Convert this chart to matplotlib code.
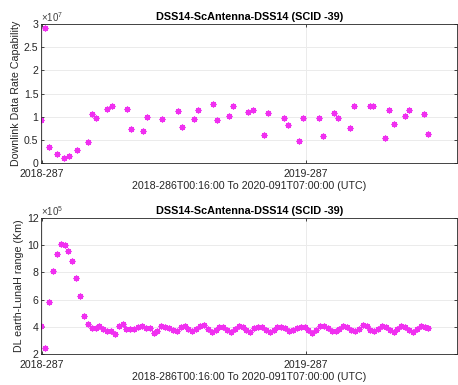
import matplotlib
matplotlib.use('Agg')
import matplotlib.pyplot as plt
from matplotlib.ticker import FormatStrFormatter
import numpy as np

plt.rcParams['font.family'] = ['Liberation Sans', 'DejaVu Sans']
plt.rcParams['mathtext.fontset'] = 'custom'
plt.rcParams['mathtext.rm'] = 'Liberation Sans'

# time axis: days after 2018-287 00:00
start_day = -0.99      # 2018-286T00:16:00
end_day = 534.29       # 2020-091T07:00:00
tick_days = [0, 365]
tick_labels = ['2018-287', '2019-287']

title = 'DSS14-ScAntenna-DSS14 (SCID -39)'
xlabel = '2018-286T00:16:00 To 2020-091T07:00:00 (UTC)'

# downlink data rate (x 10^7)
rate_days = [-0.9, 4.1, 9.7, 20.3, 30.9, 36.9, 47.9, 63.6, 68.7, 74.7, 90.3, 96.8,
             117.1, 123.5, 139.2, 145.2, 166.4, 188.0, 194.0, 209.7, 215.2, 236.4,
             242.4, 258.1, 263.6, 284.4, 291.3, 307.0, 312.0, 334.1, 340.1, 355.8,
             360.9, 383.0, 388.5, 404.2, 409.7, 425.8, 431.8, 453.0, 457.2, 474.7,
             480.2, 486.2, 501.4, 507.0, 528.2, 534.3]
rate_vals = [0.93, 2.91, 0.34, 0.19, 0.10, 0.16, 0.28, 0.45, 1.06, 0.98, 1.16, 1.23,
             1.16, 0.73, 0.68, 1.00, 0.95, 1.12, 0.78, 0.96, 1.14, 1.28, 0.93, 1.02,
             1.22, 1.11, 1.15, 0.60, 1.08, 0.97, 0.83, 0.48, 0.98, 0.98, 0.59, 1.07,
             0.98, 0.75, 1.22, 1.23, 1.24, 0.55, 1.15, 0.85, 1.01, 1.15, 1.06, 0.63]

# earth-LunaH range (x 10^5 km), sampled evenly over the pass window
range_vals = [4.05, 2.45, 5.86, 8.11, 9.38, 10.07, 10.05, 9.61, 8.86, 7.57, 6.24, 4.83,
              4.20, 3.90, 3.92, 4.05, 3.85, 3.70, 3.72, 3.50, 4.05, 4.20, 3.85, 3.82,
              3.82, 3.98, 4.05, 3.92, 3.92, 3.55, 3.72, 4.05, 4.00, 3.90, 3.78, 3.68,
              3.95, 4.05, 3.85, 3.70, 3.85, 4.05, 4.15, 3.85, 3.60, 3.80, 3.95, 4.00,
              3.80, 3.62, 3.85, 4.08, 4.02, 3.78, 3.65, 3.90, 4.02, 3.98, 3.75, 3.65,
              3.80, 3.95, 4.00, 3.90, 3.72, 3.75, 3.92, 4.00, 3.95, 3.75, 3.58, 3.80,
              4.05, 4.08, 3.88, 3.72, 3.70, 3.85, 4.05, 4.00, 3.78, 3.70, 3.85, 4.10,
              4.05, 3.80, 3.68, 3.85, 4.05, 4.00, 3.75, 3.60, 3.85, 4.08, 3.98, 3.75,
              3.62, 3.82, 4.05, 4.02, 3.90]
range_days = np.linspace(start_day, end_day, len(range_vals))

W, H = 458, 385
fig = plt.figure(figsize=(W / 100, H / 100), dpi=100)
ax_left, ax_right = 41.3, 457.0
xlim = (start_day, start_day + (ax_right - ax_left) * 365 / 264)

def make_axes(top, bottom):
    return fig.add_axes([ax_left / W, 1 - bottom / H, (ax_right - ax_left) / W, (bottom - top) / H])

def style(ax, ylabel, expo, yticks):
    ax.set_xlim(*xlim)
    ax.set_xticks(tick_days)
    ax.set_xticklabels(tick_labels)
    ax.set_yticks(yticks)
    ax.yaxis.set_major_formatter(FormatStrFormatter('%g'))
    ax.set_ylim(yticks[0], yticks[-1])
    ax.grid(True, color='#ebebeb', linewidth=0.7)
    ax.set_axisbelow(True)
    for s in ax.spines.values():
        s.set_color('#262626')
        s.set_linewidth(0.6)
    ax.tick_params(direction='in', length=2.5, width=0.6, colors='#262626',
                   labelsize=7.6, top=True, right=True, pad=2)
    ax.tick_params(axis='x', pad=4)
    ax.set_title(title, fontsize=7.8, fontweight='bold', pad=3)
    ax.set_xlabel(xlabel, fontsize=7.7, labelpad=2, color='#262626')
    ax.set_ylabel(ylabel, fontsize=7.7, labelpad=2, color='#262626')
    ax.text(0.0, 1.0, r'$\times10^{%d}$' % expo, transform=ax.transAxes,
            fontsize=7, color='#404040', ha='left', va='bottom')

marker = dict(linestyle='none', marker=(8, 2, 0), markersize=4.2,
              color='#f030f0', markeredgewidth=0.9)

ax1 = make_axes(24, 163)
ax1.plot(rate_days, rate_vals, **marker)
style(ax1, 'Downlink Data Rate Capability', 7, [0, 0.5, 1, 1.5, 2, 2.5, 3])

ax2 = make_axes(218, 354)
ax2.plot(range_days, range_vals, **marker)
style(ax2, 'DL earth-LunaH range (Km)', 5, [2, 4, 6, 8, 10, 12])

fig.savefig('out.png', dpi=100)
plt.close(fig)
